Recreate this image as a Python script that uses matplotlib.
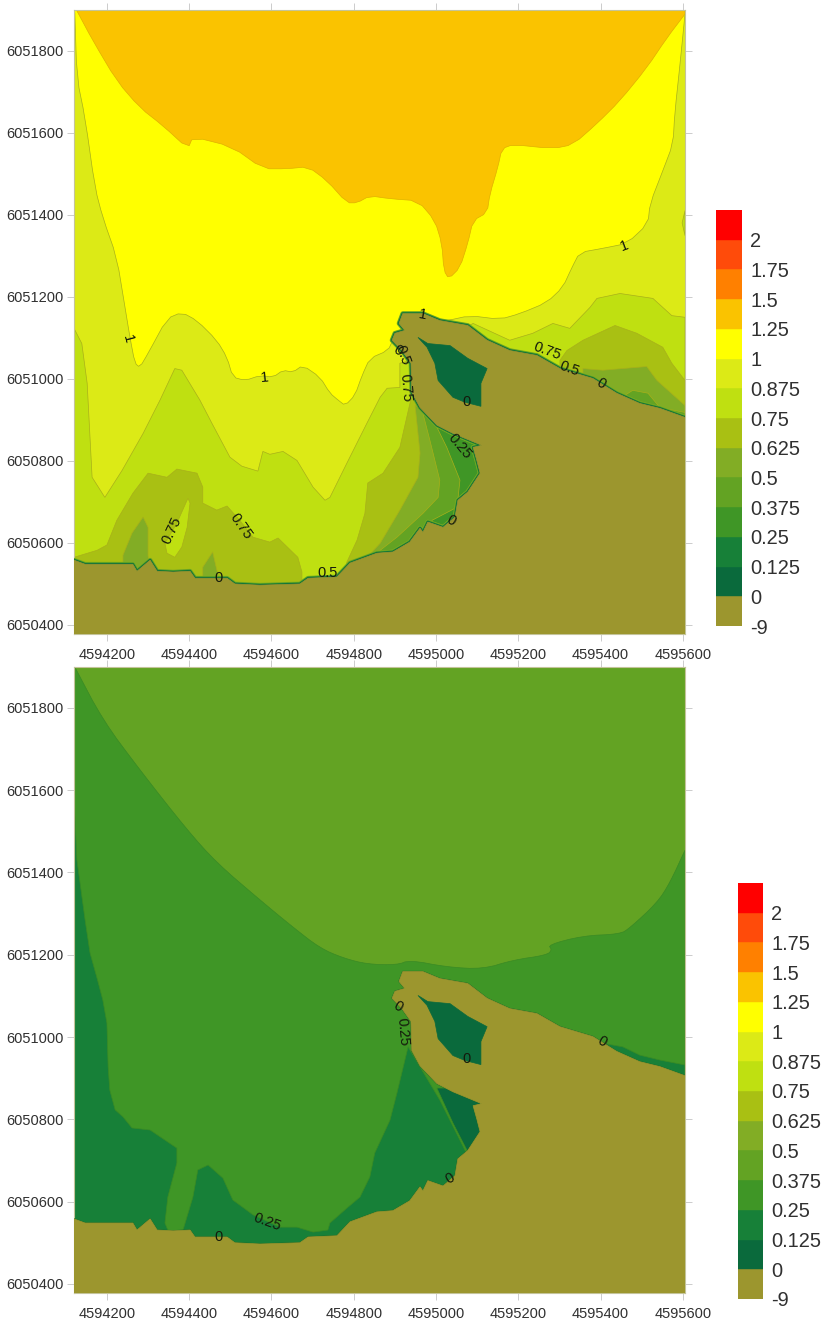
import matplotlib
matplotlib.use("Agg")
import matplotlib.pyplot as plt

plt.rcParams['font.family'] = ['Liberation Sans', 'DejaVu Sans']

EAST0 = 4594000
NORTH0 = 6050000
XLIM = (120, 1605)
YLIM = (378, 1899)

# boundaries: (easting - EAST0, northing - NORTH0)
coast = [(120,558),(147,548),(263,548),(273,531),(305,558),(322,531),(361,529),(402,531),(414,514),(492,514),
         (511,500),(572,497),(669,500),(689,514),(759,517),(791,551),(856,575),(895,578),(936,602),(961,636),
         (968,626),(980,651),(1017,638),(1046,663),(1053,704),(1077,724),(1107,770),(1099,801),(1090,833),
         (1111,838),(1041,867),(1002,887),(961,930),(941,967),(939,1038),(917,1069),(893,1094),(900,1111),
         (924,1118),(910,1135),(919,1159),(968,1159),(1009,1142),(1077,1130),(1124,1094),(1179,1069),
         (1245,1057),(1301,1025),(1381,1001),(1439,965),(1495,940),(1544,928),(1605,906)]
land_close = [(1605,378),(120,378)]
lagoon = [(956,1101),(980,1086),(1034,1081),(1077,1050),(1124,1025),(1109,989),(1109,933),(1070,943),(1041,955),
          (1005,996),(997,1038),(978,1077)]

# upper panel
top_1_00 = [(122,1892),(127,1734),(147,1636),(171,1466),(190,1393),(224,1296),(244,1174),(256,1101),(268,1038),
            (280,1028),(300,1062),(346,1147),(382,1162),(419,1142),(467,1094),(492,1052),(506,1004),(536,996),
            (572,1008),(604,1004),(628,1021),(652,1016),(676,1033),(718,1004),(742,965),(762,948),(779,935),
            (803,960),(820,1008),(839,1050),(883,1069),(895,1094),(930,1130),(1027,1142),(1082,1154),(1155,1145),
            (1204,1159),(1269,1186),(1308,1223),(1330,1271),(1349,1308),(1405,1318),(1464,1330),(1515,1378),
            (1520,1427),(1551,1507),(1576,1573),(1580,1646),(1593,1768),(1605,1889)]
top_1_25 = [(127,1897),(166,1824),(224,1726),(280,1661),(336,1617),(397,1561),(409,1590),(504,1566),(579,1512),
            (638,1512),(689,1517),(735,1483),(783,1429),(808,1429),(839,1446),(888,1439),(956,1434),(997,1386),
            (1014,1330),(1019,1264),(1031,1244),(1058,1271),(1077,1330),(1090,1386),(1124,1405),(1131,1451),
            (1150,1515),(1160,1561),(1187,1571),(1284,1561),(1333,1571),(1391,1622),(1447,1678),(1512,1758),
            (1561,1831),(1605,1889)]
top_close = [(1605,1899),(120,1899)]
top_0_75_a = [(120,1123),(139,1086),(152,989),(164,760),(195,711),(237,777),(288,867),(329,948),(365,1025),
              (382,1021),(426,948),(455,892),(499,809),(528,787),(567,775),(579,823),(596,816),(628,823),(662,801),
              (701,736),(730,704),(742,711),(783,794),(832,892),(864,955),(881,977),(912,979),(912,1038),(939,1045),
              (1082,826),(1107,378),(120,378)]
top_0_75_b = [(1058,1118),(1090,1135),(1179,1094),(1235,1111),(1284,1135),(1325,1123),(1374,1174),(1391,1196),
              (1447,1208),(1527,1196),(1573,1154),(1605,1150),(1605,850),(1155,996)]
top_0_75_c = [(1605,1410),(1598,1380),(1605,1349)]
top_0_625_a = [(120,565),(176,582),(200,595),(224,655),(263,721),(300,770),(346,760),(370,780),(419,770),(433,736),
               (433,697),(467,680),(492,690),(523,655),(555,614),(596,602),(616,612),(664,565),(674,529),(674,485),(120,485)]
top_0_625_b = [(779,485),(783,553),(808,607),(827,672),(834,746),(871,770),(912,833),(941,960),(1082,826),(1107,378)]
top_0_625_c = [(1301,1045),(1318,1069),(1357,1094),(1435,1130),(1488,1111),(1551,1077),(1573,1038),(1605,996),
               (1605,850),(1301,948)]
top_island = [(397,709),(370,648),(341,599),(346,575),(365,565),(382,590),(395,638),(402,697)]
top_0_5_a = [(949,935),(961,819),(956,760),(912,680),(864,599),(832,565),(815,461),(1107,461),(1107,850)]
top_0_5_b = [(1357,1025),(1405,1021),(1512,1030),(1537,996),(1605,935),(1605,850),(1357,948)]
top_0_5_c = [(239,529),(239,570),(261,624),(288,663),(300,638),(300,570),(305,529)]
top_0_5_d = [(433,500),(433,541),(457,578),(475,500)]
top_0_375_a = [(968,916),(985,850),(1009,753),(1005,711),(968,672),(905,614),(864,582),(839,485),(1107,485),(1107,850)]
top_0_375_b = [(1440,948),(1478,972),(1515,965),(1544,930),(1605,918),(1605,850),(1440,850)]
top_0_25 = [(1002,882),(1026,833),(1058,753),(1051,687),(990,655),(990,485),(1107,485),(1107,850)]

# lower panel
low_0_25 = [(122,1899),(190,1770),(280,1649),(395,1503),(467,1423),(572,1333),(652,1267),(718,1216),(774,1192),
            (832,1177),(905,1175),(936,1187),(1026,1170),(1114,1165),(1187,1187),(1269,1199),(1282,1212),(1272,1224),
            (1357,1246),(1447,1250),(1471,1265),(1537,1326),(1568,1374),(1605,1454)]
low_close = [(1605,378),(120,378),(120,1899)]
low_0_125_a = [(120,1593),(127,1431),(147,1284),(159,1204),(176,1143),(190,1090),(200,1034),(203,927),(207,871),
               (220,823),(239,806),(261,779),(305,774),(370,730),(370,694),(348,611),(341,548),(358,507),(368,507),
               (385,531),(409,611),(421,677),(446,689),(482,657),(506,604),(555,568),(621,538),(662,538),(701,526),
               (737,531),(742,548),(783,584),(815,611),(839,660),(851,718),(888,798),(905,864),(932,976),(1009,847),
               (1131,604),(1131,458),(120,458)]
low_0_125_b = [(1405,985),(1454,976),(1495,956),(1544,944),(1605,932),(1605,800),(1405,800)]
low_0 = [(1002,876),(1041,791),(1075,725),(1120,725),(1120,876)]

# level colours and colour-bar labels, low to high
level_labels = ['-9','0','0.125','0.25','0.375','0.5','0.625','0.75','0.875','1','1.25','1.5','1.75','2']
level_colors = ['#9c962e','#0a6a3c','#178038','#3f9626','#63a323','#82ad25','#a9c013','#bfe011','#dcea16',
                '#ffff00','#fac300','#ff8000','#ff4b0a','#ff0000']
C = dict(zip(['land','l0','l125','l25','l375','l5','l625','l75','l875','l1','l125up','l15','l175','l2'], level_colors))


def soften(curve, rounds=1):
    """Round the corners of a digitised contour, keeping its two ends."""
    pts = list(curve)
    for _ in range(rounds):
        out = [pts[0]]
        for a, b in zip(pts[:-1], pts[1:]):
            out.append((0.75*a[0]+0.25*b[0], 0.75*a[1]+0.25*b[1]))
            out.append((0.25*a[0]+0.75*b[0], 0.25*a[1]+0.75*b[1]))
        out.append(pts[-1])
        pts = out
    return pts


top_layers = [(soften(top_1_00)+top_close,'l1'),(soften(top_1_25)+top_close,'l125up'),
              (top_0_75_a,'l75'),(top_0_75_b,'l75'),(top_0_75_c,'l75'),
              (top_0_625_a,'l625'),(top_0_625_b,'l625'),(top_0_625_c,'l625'),(top_island,'l75'),
              (top_0_5_a,'l5'),(top_0_5_b,'l5'),(top_0_5_c,'l5'),(top_0_5_d,'l5'),
              (top_0_375_a,'l375'),(top_0_375_b,'l375'),(top_0_25,'l25')]
low_layers = [(soften(low_0_25, 2)+low_close,'l25'),(low_0_125_a,'l125'),(low_0_125_b,'l125'),(low_0,'l0')]

# contour labels: text, easting, northing, angle
top_labels = [('1',1457,1325,20),('1',251,1098,-75),('1',582,1003,5),('1',968,1157,-10),('0',907,1069,-30),
              ('0.5',919,1057,-70),('0.75',927,979,-85),('0',1075,943,0),('0.25',1058,836,-50),('0',1036,655,-30),
              ('0.75',1269,1067,-20),('0.5',1325,1025,-20),('0',1401,989,-30),('0.75',358,631,65),
              ('0.75',526,641,-55),('0',472,514,0),('0.5',737,526,0)]
low_labels = [('0',907,1073,-30),('0.25',919,1012,-85),('0',1075,947,0),('0',1403,990,-30),('0',1034,657,30),
              ('0.25',589,551,-20),('0',472,514,0)]

xticks = [4594200,4594400,4594600,4594800,4595000,4595200,4595400,4595600]
yticks = [6050400,6050600,6050800,6051000,6051200,6051400,6051600,6051800]

W, H = 824, 1319
fig = plt.figure(figsize=(W/100, H/100), dpi=100, facecolor='white')

def box(l, t, r, b):
    return [l/W, 1-b/H, (r-l)/W, (b-t)/H]

def poly(ax, pts, color, edge=None, lw=0.5, z=2):
    xs = [EAST0+p[0] for p in pts]
    ys = [NORTH0+p[1] for p in pts]
    ax.fill(xs, ys, facecolor=color, edgecolor=edge if edge else color, linewidth=lw, zorder=z)

def dress(ax):
    ax.set_xlim(EAST0+XLIM[0], EAST0+XLIM[1])
    ax.set_ylim(NORTH0+YLIM[0], NORTH0+YLIM[1])
    ax.set_xticks(xticks)
    ax.set_yticks(yticks)
    ax.set_xticklabels([str(v) for v in xticks])
    ax.set_yticklabels([str(v) for v in yticks])
    ax.tick_params(axis='both', length=5, width=0.7, color='#cccccc', labelsize=10.5, labelcolor='#303030',
                   top=True, right=True)
    ax.tick_params(axis='x', pad=5)
    ax.tick_params(axis='y', pad=2.5)
    for s in ax.spines.values():
        s.set_color('#c4c49a')
        s.set_linewidth(0.8)

def labels(ax, items):
    for t, e, n, a in items:
        ax.text(EAST0+e, NORTH0+n, t, fontsize=10.5, color='#141a0c', rotation=a, ha='center', va='center',
                rotation_mode='anchor', zorder=6)

def colorbar(rect):
    cax = fig.add_axes(rect)
    for i, c in enumerate(level_colors):
        cax.bar(0, 1, width=1, bottom=i, color=c, edgecolor=c, linewidth=0.3)
    cax.set_xlim(-0.5, 0.5)
    cax.set_ylim(0, len(level_colors))
    cax.set_xticks([])
    cax.yaxis.tick_right()
    cax.set_yticks(range(len(level_labels)))
    cax.set_yticklabels(level_labels)
    cax.tick_params(axis='y', length=0, labelsize=14.4, labelcolor='#303030', pad=6)
    for s in cax.spines.values():
        s.set_visible(False)

# upper map
ax1 = fig.add_axes(box(74, 10, 685, 634))
ax1.set_facecolor(C['l875'])
edge_top = '#a8b01a'
for pts, key in top_layers:
    poly(ax1, pts, C[key], edge=edge_top if key != 'l125up' else '#e0b000')
cx = [EAST0+p[0] for p in coast]
cy = [NORTH0+p[1] for p in coast]
for key, w in [('l5',3.4),('l375',2.8),('l25',2.2),('l125',1.7),('l0',1.2)]:
    ax1.plot(cx, cy, color=C[key], linewidth=w, zorder=3, solid_joinstyle='round')
poly(ax1, coast+land_close, C['land'], z=4)
poly(ax1, lagoon, C['l0'], z=5)
labels(ax1, top_labels)
dress(ax1)
colorbar(box(716, 210, 742, 626))

# lower map
ax2 = fig.add_axes(box(74, 667, 685, 1293))
ax2.set_facecolor(C['l375'])
for pts, key in low_layers:
    poly(ax2, pts, C[key], edge='#3a8a24')
ax2.plot(cx, cy, color='#1d6a28', linewidth=1.0, zorder=3)
poly(ax2, coast+land_close, C['land'], z=4)
poly(ax2, lagoon, C['l0'], z=5)
labels(ax2, low_labels)
dress(ax2)
colorbar(box(738, 883, 763, 1299))

fig.savefig('out.png', dpi=100)
